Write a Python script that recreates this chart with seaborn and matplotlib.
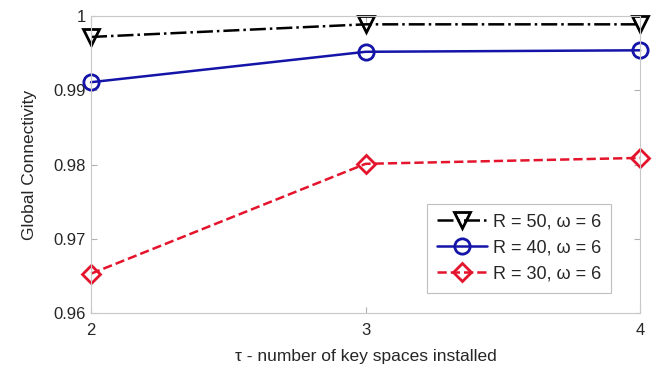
import numpy as np
import pandas as pd
import matplotlib
matplotlib.use("Agg")
import matplotlib.pyplot as plt
import seaborn as sns

tau = [2, 3, 4]
r50 = [0.9972, 0.9989, 0.9989]
r40 = [0.9911, 0.9952, 0.9954]
r30 = [0.9653, 0.9801, 0.9809]
labels = ["R = 50, \u03c9 = 6", "R = 40, \u03c9 = 6", "R = 30, \u03c9 = 6"]

df = pd.DataFrame({
    "tau": tau * 3,
    "conn": r50 + r40 + r30,
    "series": [labels[0]] * 3 + [labels[1]] * 3 + [labels[2]] * 3,
})

sns.set_style("white")
plt.rcParams["font.family"] = ["Liberation Sans", "DejaVu Sans"]

fig = plt.figure(figsize=(6.62, 3.76), dpi=100)
ax = fig.add_axes([0.1375, 0.1676, 0.8295, 0.7894])

colors = ["black", "#1414a8", "#e3142c"]
styles = ["-.", "-", "--"]
markers = ["v", "o", "D"]
for lab, c, ls, m in zip(labels, colors, styles, markers):
    sub = df[df["series"] == lab]
    sns.lineplot(data=sub, x="tau", y="conn", ax=ax, color=c, linestyle=ls,
                 marker=m, markersize=11 if m != "D" else 9, markerfacecolor="none",
                 markeredgecolor=c, markeredgewidth=2, linewidth=1.8, label=lab,
                 clip_on=False)

ax.set_xlim(2, 4)
ax.set_ylim(0.96, 1.0)
ax.set_xticks([2, 3, 4])
ax.set_yticks([0.96, 0.97, 0.98, 0.99, 1.0])
ax.set_yticklabels(["0.96", "0.97", "0.98", "0.99", "1"])
ax.tick_params(direction="in", length=4, color="#b0b0b0", labelsize=12,
               top=True, right=True, left=True, bottom=True)
ax.tick_params(axis="x", pad=7)
for s in ax.spines.values():
    s.set_color("#c8c8c8")
    s.set_linewidth(0.8)
ax.set_xlabel("\u03c4 - number of key spaces installed", fontsize=12.5, labelpad=8)
ax.set_ylabel("Global Connectivity", fontsize=12.5, labelpad=12)

leg = ax.legend(loc="lower right", bbox_to_anchor=(0.963, 0.038), fontsize=13,
                frameon=True, fancybox=False, handlelength=2.8, borderpad=0.55,
                labelspacing=0.5, handletextpad=0.3)
leg.get_frame().set_edgecolor("#b0b0b0")
leg.get_frame().set_linewidth(0.8)

fig.savefig("out.png", dpi=100)
